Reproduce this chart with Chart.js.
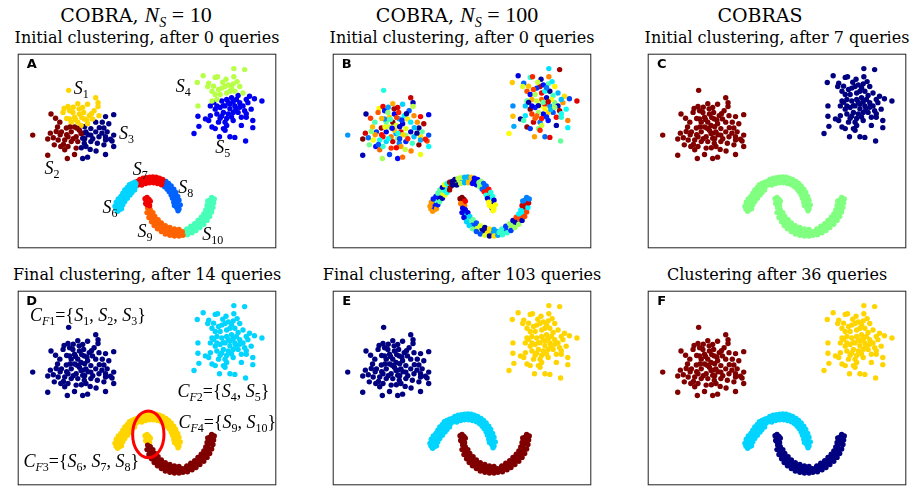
<!DOCTYPE html>
<html>
<head>
<meta charset="utf-8">
<script src="https://cdn.jsdelivr.net/npm/chart.js@4.4.0/dist/chart.umd.min.js"></script>
<style>
  body { margin: 0; background: #fff; width: 913px; height: 492px; position: relative; overflow: hidden; font-family: "DejaVu Serif", serif; color: #000; }
  .t { position: absolute; white-space: nowrap; transform: translateX(-50%); line-height: 1; }
  .big { font-size: 19px; }
  .sm { font-size: 16px; }
  .m { font-family: "Liberation Serif", serif; font-style: italic; font-size: 22px; }
  .r { font-family: "Liberation Serif", serif; font-size: 22px; }
  .s { font-family: "Liberation Serif", serif; font-style: italic; font-size: 14px; position: relative; top: 5px; }
  .p { position: absolute; width: 264px; }
  .p canvas { display: block; }
</style>
</head>
<body>
<div class="t big" style="left:136px;top:4px">COBRA, <span class="m">N</span><span class="s">S</span><span class="r"> = 10</span></div>
<div class="t big" style="left:457px;top:4px">COBRA, <span class="m">N</span><span class="s">S</span><span class="r"> = 100</span></div>
<div class="t big" style="left:760px;top:6px">COBRAS</div>
<div class="t sm" style="left:147px;top:30px">Initial clustering, after 0 queries</div>
<div class="t sm" style="left:462px;top:30px">Initial clustering, after 0 queries</div>
<div class="t sm" style="left:777px;top:30px">Initial clustering, after 7 queries</div>
<div class="t sm" style="left:147px;top:267px">Final clustering, after 14 queries</div>
<div class="t sm" style="left:462px;top:267px">Final clustering, after 103 queries</div>
<div class="t sm" style="left:777px;top:267px">Clustering after 36 queries</div>

<div class="p" style="left:15px;top:51px"><canvas id="pA" width="264" height="200"></canvas></div>
<div class="p" style="left:330px;top:51px"><canvas id="pB" width="264" height="200"></canvas></div>
<div class="p" style="left:645px;top:51px"><canvas id="pC" width="264" height="200"></canvas></div>
<div class="p" style="left:15px;top:288px"><canvas id="pD" width="264" height="200"></canvas></div>
<div class="p" style="left:330px;top:288px"><canvas id="pE" width="264" height="200"></canvas></div>
<div class="p" style="left:645px;top:288px"><canvas id="pF" width="264" height="200"></canvas></div>

<script>
// super-instances of COBRA with N_S = 10 (x, y)
const s1 = [[156,113],[142,169],[154,163],[159,176],[184,154],[214,156],[239,136],[246,151],[246,163],[234,176],
  [139,181],[164,211],[174,196],[189,186],[202,181],[204,201],[184,211],[194,221],[214,216],[249,191],
  [159,201],[169,181],[199,166],[219,191],[229,201],
  [177,203],[196,197],[212,205],[150,200],[226,185],[188,170],[170,165]];
const s2 = [[102,186],[116,199],[129,211],[122,226],[134,241],[149,229],[174,226],[194,246],[179,256],[164,241],
  [154,256],[144,266],[124,266],[109,259],[92,263],[112,281],[132,286],[144,296],[164,271],[184,271],
  [92,313],[152,323],[179,291],[46,251],[189,236],[154,286],[174,311],
  [160,226],[182,230],[150,250],[170,262],[130,250],[118,240],[140,280],[100,245]];
const s3 = [[269,194],[294,188],[224,231],[239,211],[259,211],[264,229],[279,216],[274,241],[294,251],[289,269],
  [269,256],[249,256],[239,241],[224,251],[209,241],[204,276],[209,286],[224,271],[244,276],[264,281],
  [269,311],[294,286],[199,323],[214,319],[199,261],[269,266],[284,264],
  [205,225],[215,250],[200,245],[230,262],[205,262],[222,295],[250,228],[240,300],[258,245],[195,290]];
const s4 = [[662,46],[695,49],[568,68],[550,89],[605,73],[612,71],[585,91],[582,101],[638,79],[662,71],
  [660,93],[635,101],[625,106],[680,101],[690,121],[595,116],[605,126],[620,126],[640,121],[650,116],
  [665,116],[610,141],[595,146],[552,161],
  [628,88],[645,96],[615,110],[672,86],[600,100],[655,105]];
const s5 = [[710,131],[725,139],[748,146],[675,129],[655,136],[640,141],[625,146],[590,161],[605,171],[620,166],
  [635,161],[650,156],[665,161],[680,151],[690,161],[705,151],[715,171],[695,176],[675,181],[660,181],
  [645,186],[630,181],[610,186],[590,191],[575,201],[552,193],[585,206],[615,211],[635,211],[640,221],
  [660,206],[685,196],[700,196],[720,206],[555,224],[540,246],[595,226],[605,231],[630,231],[635,236],
  [685,221],[720,228],[618,256],[650,256],[665,258],[698,269],[610,161],[670,141],[700,141],[620,199],
  [645,150],[660,148],[630,160],[650,170],[668,172],[640,200],[655,195],[680,165],[625,192],[700,185],[600,150]];
const s6 = [[301,479],[306,486],[311,481],[304,469],[312,473],[309,461],[316,463],[314,451],[321,455],[320,443],
  [326,446],[326,436],[332,439],[332,429],[338,431],[338,421],[344,425],[346,414],[352,417],[354,408],
  [360,411],[362,401],
  [298,470],[302,458],[308,448],[316,440],[322,430],[328,420],[336,412],[342,404],[350,400],[358,396],
  [318,478],[322,466],[328,456],[336,446],[344,436],[350,428],[358,420]];
const s7 = [[368,405],[371,397],[376,401],[380,393],[386,397],[391,389],[396,394],[402,389],[408,393],[414,387],
  [420,393],[426,389],[432,395],[436,391],[442,398],
  [366,394],[374,388],[384,384],[394,382],[404,381],[414,380],[424,381],[434,384],[444,388],
  [380,405],[392,400],[404,398],[416,398],[428,400],[440,404]];
const s8 = [[448,397],[452,405],[458,403],[462,413],[466,411],[470,421],[474,423],[476,433],[481,436],[481,446],
  [486,451],[484,461],[489,466],[488,476],[494,479],[491,484],[486,471],
  [454,394],[462,400],[470,408],[478,418],[484,428],[490,440],[494,452],[498,466],
  [450,410],[458,418],[464,426],[470,436],[474,446],[478,458],[480,468]];
const s7tip = [[396,443],[402,449],[394,453],[400,459],[396,466],[404,469],[390,447],[406,455],[392,462]];
const s9 = [[398,476],[406,481],[402,491],[410,496],[408,506],[416,509],[414,516],[422,521],[426,516],[428,529],
  [434,533],[438,526],[442,539],[448,536],[452,546],[458,541],[462,551],[468,547],[474,553],[480,549],
  [486,556],[492,551],[498,555],[504,549],
  [396,490],[402,505],[410,518],[418,530],[428,540],[440,548],[452,556],[466,560],[480,562],[494,562],[506,560],
  [414,490],[420,502],[430,512],[440,522],[452,530],[466,536],[480,540],[494,542]];
const s10 = [[510,551],[516,545],[522,547],[528,539],[534,541],[538,533],[544,536],[548,527],[554,529],[558,519],
  [564,521],[566,511],[572,511],[574,501],[580,499],[578,489],[584,487],[582,476],[588,473],[586,463],
  [592,461],[590,451],[596,449],[594,443],
  [520,558],[534,552],[546,545],[558,536],[570,526],[580,514],[588,502],[594,488],[598,474],[600,460],[602,448],
  [518,540],[530,532],[542,524],[552,514],[562,504],[570,494],[576,482],[580,468],[582,454]];

// labels of the 100 super-instances (panel B), same point order as s1..s10 above
const bS1 = [40,62,88,15,70,33,92,5,55,21,78,47,66,12,84,30,97,58,8,73,26,51,90,36,64,44,81,17,69,3,95,28];
const bS2 = [3,81,44,69,18,95,57,28,75,10,86,39,61,23,99,48,14,77,33,91,6,53,82,27,68,42,19,
  60,13,86,37,72,50,21,91];
const bS3 = [87,11,59,35,72,2,94,46,20,80,64,31,7,52,89,25,71,16,43,98,60,37,13,76,50,29,85,
  9,66,40,83,19,56,31,74,2,88];
const bS4 = [34,96,9,67,41,83,22,58,4,74,45,93,17,63,30,79,12,54,88,38,1,70,47,26,57,14,80,35,68,24];
const bS5 = [65,19,90,43,8,77,56,32,99,15,61,84,27,49,6,72,38,95,21,66,11,53,81,35,2,68,44,92,24,57,
  14,86,40,74,29,62,97,18,50,83,5,36,71,23,89,47,10,60,31,78,46,93,7,63,30,85,16,52,77,39,4];
const bS6 = [72,72,72,15,15,15,15,45,45,45,5,5,5,60,60,60,38,38,38,38,95,95,
  72,72,15,15,45,45,5,60,38,95, 72,15,45,5,60,38,95];
const bS7 = [2,2,2,55,55,55,30,30,30,68,68,68,12,12,12, 2,2,55,55,30,30,68,12,12, 2,55,30,68,12,12];
const bS8 = [50,50,50,22,22,22,85,85,85,40,40,40,8,8,62,62,62, 50,22,22,85,40,40,8,62, 50,22,85,40,8,62,62];
const bS7tip = [99,99,88,88,75,75,99,88,75];
const bS9 = [10,10,10,33,33,33,47,47,47,20,20,20,58,58,58,3,3,3,65,65,65,28,28,28,
  10,10,33,33,47,20,20,58,3,65,28, 10,33,47,20,58,3,65,28];
const bS10 = [42,42,42,18,18,18,52,52,52,6,6,6,80,80,80,36,36,36,92,92,92,25,25,25,
  42,42,18,52,52,6,80,80,36,92,25, 42,18,52,6,80,36,36,92,25];

// matplotlib 'jet'
function jet(v) {
  const r = Math.min(Math.max(Math.min(4 * v - 1.5, -4 * v + 4.5), 0), 1);
  const g = Math.min(Math.max(Math.min(4 * v - 0.5, -4 * v + 3.5), 0), 1);
  const b = Math.min(Math.max(Math.min(4 * v + 0.5, -4 * v + 2.5), 0), 1);
  return 'rgb(' + Math.round(r * 255) + ',' + Math.round(g * 255) + ',' + Math.round(b * 255) + ')';
}

const pts = arrs => [].concat(...arrs).map(p => ({ x: p[0], y: p[1] }));

const fonts = {
  i: 'italic 18px "Liberation Serif"', r: '18px "Liberation Serif"',
  si: 'italic 12px "Liberation Serif"', sr: '12px "Liberation Serif"'
};
function drawMath(ctx, toks, cx, cy) {
  let w = 0;
  toks.forEach(t => { ctx.font = fonts[t[1]]; w += ctx.measureText(t[0]).width; });
  let x = cx - w / 2;
  ctx.fillStyle = '#000';
  ctx.textBaseline = 'alphabetic';
  ctx.textAlign = 'left';
  toks.forEach(t => {
    ctx.font = fonts[t[1]];
    const dy = t[1][0] === 's' ? 4 : 0;
    ctx.fillText(t[0], x, cy + 6 + dy);
    x += ctx.measureText(t[0]).width;
  });
}
const S = n => [['S', 'i'], [String(n), 'sr']];
const CF = (n, list) => {
  let t = [['C', 'i'], ['F', 'si'], [String(n), 'sr'], ['=', 'r'], ['{', 'r']];
  list.forEach((k, i) => { t = t.concat(S(k)); if (i < list.length - 1) t.push([', ', 'r']); });
  t.push(['}', 'r']);
  return t;
};

Chart.register({
  id: 'deco',
  afterDatasetsDraw(chart, args, opts) {
    const ctx = chart.ctx, xs = chart.scales.x, ys = chart.scales.y, ca = chart.chartArea;
    ctx.save();
    ctx.font = 'bold 13px "DejaVu Sans"';
    ctx.fillStyle = '#000';
    ctx.textAlign = 'center';
    ctx.textBaseline = 'middle';
    ctx.fillText(opts.letter, ca.left + 14, ca.top + 11);
    (opts.labels || []).forEach(l => drawMath(ctx, l.t, xs.getPixelForValue(l.x), ys.getPixelForValue(l.y)));
    if (opts.ellipse) {
      const e = opts.ellipse;
      const cx = xs.getPixelForValue(e.x), cy = ys.getPixelForValue(e.y);
      ctx.beginPath();
      ctx.ellipse(cx, cy, Math.abs(xs.getPixelForValue(e.x + e.rx) - cx), Math.abs(ys.getPixelForValue(e.y + e.ry) - cy), 0, 0, Math.PI * 2);
      ctx.strokeStyle = '#f00';
      ctx.lineWidth = 3;
      ctx.stroke();
    }
    ctx.strokeStyle = '#222';
    ctx.lineWidth = 1;
    ctx.strokeRect(ca.left + 0.5, ca.top + 0.5, ca.width - 1, ca.height - 1);
    ctx.restore();
  }
});

function panel(id, datasets, deco) {
  return new Chart(document.getElementById(id), {
    type: 'scatter',
    data: { datasets: datasets },
    options: {
      responsive: false,
      animation: false,
      layout: { padding: 0 },
      elements: { point: { radius: 2.7, borderWidth: 0, hoverRadius: 2.7 } },
      scales: {
        x: { type: 'linear', min: 0, max: 792, display: false },
        y: { type: 'linear', min: 0, max: 600, reverse: true, display: false }
      },
      plugins: { legend: { display: false }, tooltip: { enabled: false }, deco: deco }
    }
  });
}
const ds = (arrs, c) => ({ data: pts(arrs), backgroundColor: c, borderWidth: 0 });

// A: COBRA, N_S = 10, 10 super-instances
panel('pA', [
  ds([s2], jet(1)), ds([s1], jet(6 / 9)), ds([s3], jet(0)),
  ds([s4], jet(5 / 9)), ds([s5], jet(1 / 9)),
  ds([s6], jet(3 / 9)), ds([s7, s7tip], jet(8 / 9)), ds([s8], jet(2 / 9)),
  ds([s9], jet(7 / 9)), ds([s10], jet(4 / 9))
], {
  letter: 'A',
  labels: [
    { x: 195, y: 107, t: S(1) }, { x: 105, y: 352, t: S(2) }, { x: 333, y: 244, t: S(3) },
    { x: 507, y: 100, t: S(4) }, { x: 628, y: 287, t: S(5) }, { x: 283, y: 472, t: S(6) },
    { x: 375, y: 357, t: S(7) }, { x: 515, y: 412, t: S(8) }, { x: 390, y: 547, t: S(9) },
    { x: 597, y: 557, t: S(10) }
  ]
});

// B: COBRA, N_S = 100
const bLabels = [].concat(bS1, bS2, bS3, bS4, bS5, bS6, bS7, bS8, bS7tip, bS9, bS10);
panel('pB', [{
  data: pts([s1, s2, s3, s4, s5, s6, s7, s8, s7tip, s9, s10]),
  backgroundColor: bLabels.map(k => jet(k / 99)),
  borderWidth: 0
}], { letter: 'B' });

// C: COBRAS after 7 queries
panel('pC', [
  ds([s1, s2, s3], jet(1)), ds([s4, s5], jet(0)), ds([s6, s7, s8, s7tip, s9, s10], jet(0.5))
], { letter: 'C' });

// D: COBRA N_S = 10, final
panel('pD', [
  ds([s1, s2, s3], jet(0)), ds([s4, s5], jet(1 / 3)),
  ds([s9, s10], jet(1)), ds([s6, s7, s8, s7tip], jet(2 / 3))
], {
  letter: 'D',
  labels: [
    { x: 215, y: 76, t: CF(1, [1, 2, 3]) }, { x: 630, y: 308, t: CF(2, [4, 5]) },
    { x: 642, y: 406, t: CF(4, [9, 10]) }, { x: 195, y: 526, t: CF(3, [6, 7, 8]) }
  ],
  ellipse: { x: 400, y: 443, rx: 48, ry: 72 }
});

// E: COBRA N_S = 100, final
panel('pE', [
  ds([s1, s2, s3], jet(0)), ds([s4, s5], jet(2 / 3)),
  ds([s6, s7, s8], jet(1 / 3)), ds([s7tip, s9, s10], jet(1))
], { letter: 'E' });

// F: COBRAS after 36 queries
panel('pF', [
  ds([s1, s2, s3], jet(1)), ds([s4, s5], jet(2 / 3)),
  ds([s6, s7, s8], jet(1 / 3)), ds([s7tip, s9, s10], jet(0))
], { letter: 'F' });
</script>
</body>
</html>
